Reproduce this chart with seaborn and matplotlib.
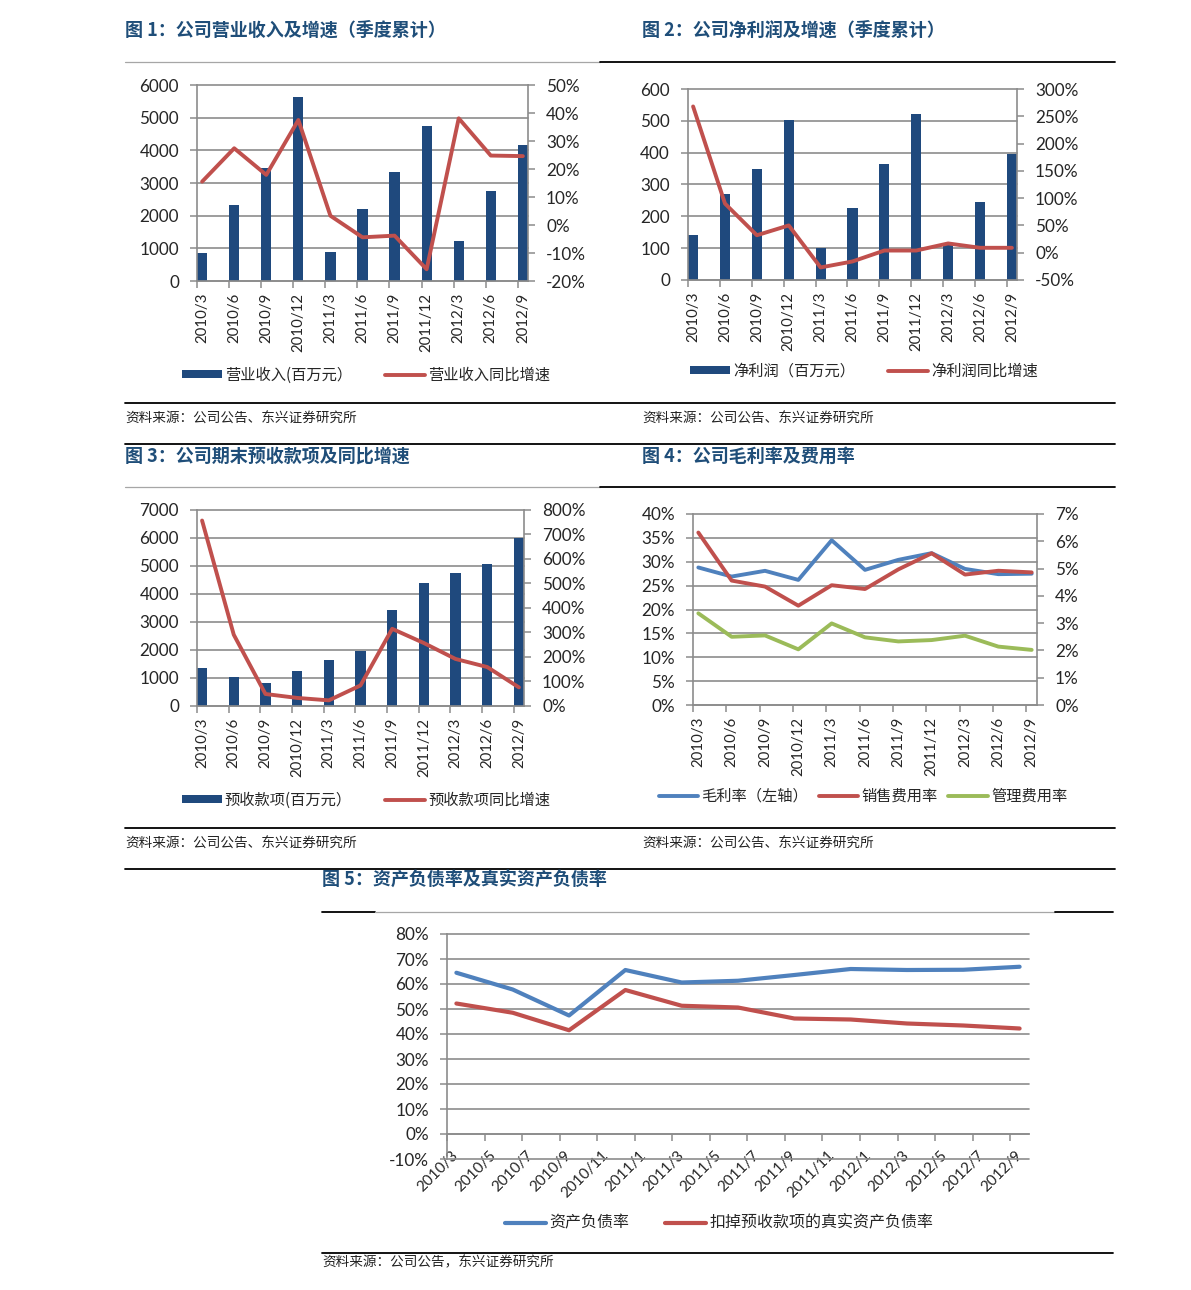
import numpy as np
import matplotlib
matplotlib.use("Agg")
import matplotlib.pyplot as plt
from matplotlib.lines import Line2D
from matplotlib.ticker import FuncFormatter
import seaborn as sns

# ---------------- data ----------------
quarters = ['2010/3', '2010/6', '2010/9', '2010/12', '2011/3', '2011/6',
            '2011/9', '2011/12', '2012/3', '2012/6', '2012/9']

revenue = [860, 2320, 3470, 5620, 880, 2210, 3330, 4760, 1230, 2760, 4160]
revenue_yoy = [15.5, 27.4, 17.9, 37.5, 3.3, -4.4, -3.8, -15.8, 38.1, 24.8, 24.6]

net_profit = [140, 270, 350, 502, 100, 225, 364, 522, 112, 244, 396]
net_profit_yoy = [268, 90, 32, 50, -27, -16, 4, 4, 17, 9, 9]

advance = [1340, 1050, 820, 1240, 1640, 1950, 3420, 4400, 4760, 5065, 6005]
advance_yoy = [757, 291, 49, 33, 23, 84, 315, 257, 192, 159, 76]

gross_margin = [28.8, 26.9, 28.1, 26.2, 34.5, 28.3, 30.4, 31.8, 28.5, 27.4, 27.5]
selling_rate = [6.32, 4.56, 4.34, 3.64, 4.39, 4.25, 4.97, 5.56, 4.78, 4.92, 4.86]
admin_rate = [3.36, 2.50, 2.55, 2.04, 2.99, 2.48, 2.33, 2.38, 2.54, 2.14, 2.02]

month_labels = ['2010/3', '2010/5', '2010/7', '2010/9', '2010/11', '2011/1',
                '2011/3', '2011/5', '2011/7', '2011/9', '2011/11', '2012/1',
                '2012/3', '2012/5', '2012/7', '2012/9']
debt_ratio = [64.5, 57.8, 47.4, 65.6, 60.6, 61.3, 63.6, 66.0, 65.6, 65.7, 66.9]
real_debt_ratio = [52.2, 48.5, 41.5, 57.6, 51.3, 50.6, 46.2, 45.8, 44.2, 43.4, 42.2]

titles = ['图 1：公司营业收入及增速（季度累计）', '图 2：公司净利润及增速（季度累计）',
          '图 3：公司期末预收款项及同比增速', '图 4：公司毛利率及费用率',
          '图 5：资产负债率及真实资产负债率']
source_text = '资料来源：公司公告、东兴证券研究所'
source_text5 = '资料来源：公司公告，东兴证券研究所'

# ---------------- style ----------------
sns.set_style("white")
plt.rcParams['font.family'] = ['Lato', 'Noto Sans CJK SC', 'DejaVu Sans']
CJK = ['Noto Sans CJK SC', 'DejaVu Sans']

NAVY = '#1F497D'
RED = '#C0504D'
BLUE = '#4F81BD'
GREEN = '#9BBB59'
GRID = '#8C8C8C'
SPINE = '#8C8C8C'
TITLE_C = '#1F4E79'

W, H = 1191, 1290
fig = plt.figure(figsize=(W / 100, H / 100), dpi=100)


def fx(px):
    return px / W


def fy(py):
    return 1 - py / H


def rect(l, t, r, b):
    return [fx(l), fy(b), (r - l) / W, (b - t) / H]


def hline(x0, x1, y, color='black', lw=1.2):
    fig.add_artist(Line2D([fx(x0), fx(x1)], [fy(y), fy(y)], color=color, lw=lw,
                          transform=fig.transFigure))


pct = FuncFormatter(lambda v, p: f'{v:.0f}%')
num = FuncFormatter(lambda v, p: f'{v:.0f}')
n = len(quarters)
xi = np.arange(n)


def style_left(ax, lim, ticks, fmt):
    ax.set_ylim(*lim)
    ax.set_yticks(ticks)
    ax.yaxis.set_major_formatter(fmt)
    ax.tick_params(axis='y', which='major', left=True, length=5, width=1.1,
                   color=SPINE, pad=8, labelsize=12.3, direction='out')
    ax.yaxis.grid(True, color=GRID, lw=1.2)
    ax.xaxis.grid(False)
    for gl in ax.get_ygridlines():
        gl.set_clip_on(False)
    ax.set_axisbelow(True)
    ax.set_xlabel('')
    ax.set_ylabel('')
    for s in ['top', 'right']:
        ax.spines[s].set_visible(False)
    for s in ['left', 'bottom']:
        ax.spines[s].set_color(SPINE)
        ax.spines[s].set_linewidth(1.2)


def style_right(ax2, lim, ticks, fmt, show_spine=True):
    ax2.set_ylim(*lim)
    ax2.set_yticks(ticks)
    ax2.yaxis.set_major_formatter(fmt)
    ax2.tick_params(axis='y', which='major', right=True, length=5, width=1.1,
                    color=SPINE, pad=8, labelsize=12.3, direction='out')
    ax2.set_xlabel('')
    ax2.set_ylabel('')
    for s in ['top', 'left', 'bottom']:
        ax2.spines[s].set_visible(False)
    ax2.spines['right'].set_visible(show_spine)
    ax2.spines['right'].set_color(SPINE)
    ax2.spines['right'].set_linewidth(1.2)


def style_cat_x(ax):
    ax.set_xlim(-0.16, n - 1 + 0.16)
    ax.set_xticks(xi)
    ax.set_xticklabels(quarters, rotation=90, fontsize=10.8)
    ax.set_xticks(xi - 0.16, minor=True)
    ax.tick_params(axis='x', which='major', length=0, pad=8.5, bottom=True)
    ax.tick_params(axis='x', which='minor', length=5, width=1.1, color=SPINE,
                   direction='out', bottom=True)


def legend(handles, labels, cx, cy, fs=11, colsp=2.2):
    fig.legend(handles, labels, loc='center', bbox_to_anchor=(fx(cx), fy(cy)),
               ncol=len(handles), frameon=False, handlelength=2.6, handleheight=0.45,
               handletextpad=0.2, columnspacing=colsp,
               prop=dict(family=CJK, size=fs, weight='light'))


def bar_line_chart(box, bars, line, left_lim, left_ticks, right_lim, right_ticks,
                   labels, leg_c):
    ax = fig.add_axes(rect(*box))
    sns.barplot(x=quarters, y=bars, ax=ax, color=NAVY, saturation=1, width=0.32,
                linewidth=0)
    ax2 = ax.twinx()
    sns.lineplot(x=xi, y=line, ax=ax2, color=RED, lw=2.8, sort=False)
    style_left(ax, left_lim, left_ticks, num)
    style_right(ax2, right_lim, right_ticks, pct)
    style_cat_x(ax)
    legend([ax.patches[0], ax2.lines[0]], labels, *leg_c)
    return ax, ax2


# ---------------- chart 1 ----------------
bar_line_chart((197, 85, 528, 281), revenue, revenue_yoy,
               (0, 6000), range(0, 6001, 1000), (-20, 50), range(-20, 51, 10),
               ['营业收入(百万元）', '营业收入同比增速'], (366, 375))

# ---------------- chart 2 ----------------
bar_line_chart((688, 89, 1017, 280), net_profit, net_profit_yoy,
               (0, 600), range(0, 601, 100), (-50, 300), range(-50, 301, 50),
               ['净利润（百万元）', '净利润同比增速'], (864, 371))

# ---------------- chart 3 ----------------
bar_line_chart((197, 510, 524, 706), advance, advance_yoy,
               (0, 7000), range(0, 7001, 1000), (0, 800), range(0, 801, 100),
               ['预收款项(百万元）', '预收款项同比增速'], (366, 800))

# ---------------- chart 4 ----------------
ax4 = fig.add_axes(rect(693, 514, 1037, 705))
sns.lineplot(x=xi, y=gross_margin, ax=ax4, color=BLUE, lw=2.8, sort=False)
ax4b = ax4.twinx()
sns.lineplot(x=xi, y=selling_rate, ax=ax4b, color=RED, lw=2.8, sort=False)
sns.lineplot(x=xi, y=admin_rate, ax=ax4b, color=GREEN, lw=2.8, sort=False)
style_left(ax4, (0, 40), range(0, 41, 5), pct)
style_right(ax4b, (0, 7), range(0, 8, 1), pct)
style_cat_x(ax4)
legend([ax4.lines[0], ax4b.lines[0], ax4b.lines[1]],
       ['毛利率（左轴）', '销售费用率', '管理费用率'], 863, 796, colsp=0.7)

# ---------------- chart 5 ----------------
def month_index(s):
    y, m = s.split('/')
    return (int(y) - 2010) * 12 + int(m) - 3


xq = np.array([month_index(q) for q in quarters]) + 0.5
xm = np.array([month_index(m) for m in month_labels])

ax5 = fig.add_axes(rect(447, 934, 1029, 1159))
sns.lineplot(x=xq, y=debt_ratio, ax=ax5, color=BLUE, lw=3.0, sort=False)
sns.lineplot(x=xq, y=real_debt_ratio, ax=ax5, color=RED, lw=3.0, sort=False)
style_left(ax5, (-10, 80), range(-10, 81, 10), pct)
ax5.spines['bottom'].set_position(('data', 0))
ax5.set_xlim(0, 31)
ax5.set_xticks(xm + 0.5)
ax5.set_xticklabels(month_labels, rotation=45, ha='right', va='center',
                    rotation_mode='anchor', fontsize=11)
ax5.set_xticks(xm, minor=True)
ax5.tick_params(axis='x', which='major', length=0, pad=13.5, bottom=True)
ax5.tick_params(axis='x', which='minor', length=5, width=1.1, color=SPINE,
                direction='out', bottom=True)
legend(ax5.lines[:2], ['资产负债率', '扣掉预收款项的真实资产负债率'], 719, 1223, fs=11.5)

# ---------------- page furniture ----------------
tkw = dict(ha='left', va='center', fontsize=13, fontweight='bold', color=TITLE_C,
           family=CJK)
fig.text(fx(125), fy(30), titles[0], **tkw)
fig.text(fx(642), fy(30), titles[1], **tkw)
fig.text(fx(125), fy(456), titles[2], **tkw)
fig.text(fx(642), fy(456), titles[3], **tkw)
fig.text(fx(322), fy(880), titles[4], **tkw)

skw = dict(ha='left', va='center', fontsize=9.8, color='#222222', family=CJK,
           weight='light')
for (x, y) in [(125, 419), (642, 419), (125, 844), (642, 844)]:
    fig.text(fx(x), fy(y), source_text, **skw)
fig.text(fx(322), fy(1262), source_text5, **skw)

# separator lines
hline(125, 600, 62, color='#A6A6A6', lw=0.9)
hline(600, 1115, 62, color='black', lw=1.3)
hline(125, 1115, 403, color='black', lw=1.3)
hline(125, 1115, 444, color='black', lw=1.3)
hline(125, 600, 487, color='#A6A6A6', lw=0.9)
hline(600, 1115, 487, color='black', lw=1.3)
hline(125, 1115, 828, color='black', lw=1.3)
hline(125, 1115, 869, color='black', lw=1.3)
hline(322, 375, 912, color='black', lw=1.3)
hline(375, 1055, 912, color='#A6A6A6', lw=0.9)
hline(1055, 1113, 912, color='black', lw=1.3)
hline(322, 1113, 1253, color='black', lw=1.3)

fig.savefig('out.png', dpi=100)
